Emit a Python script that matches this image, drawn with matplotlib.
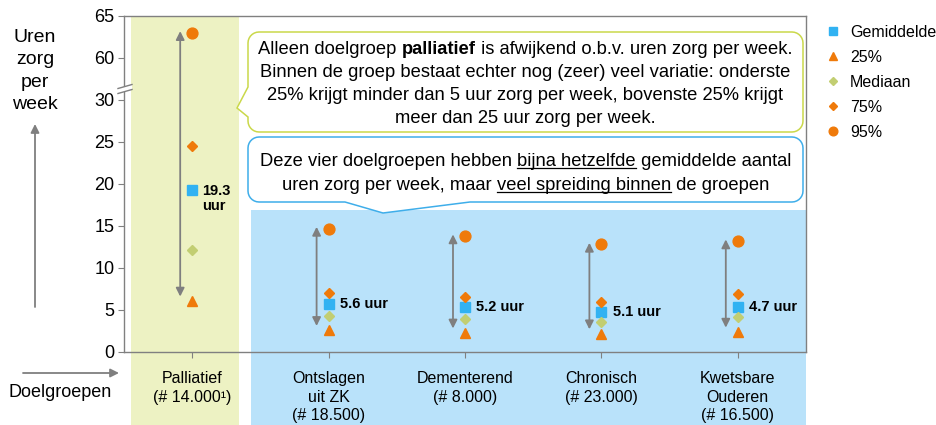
import matplotlib
matplotlib.use('Agg')
import matplotlib.pyplot as plt
import matplotlib.transforms as transforms
from matplotlib.patches import Rectangle, PathPatch, Polygon, FancyArrowPatch
from matplotlib.path import Path
from matplotlib.lines import Line2D
import numpy as np

plt.rcParams['font.family'] = ['Liberation Sans', 'DejaVu Sans']

W, H = 937, 425

# data per doelgroep
groepen = ['Palliatief\n(# 14.000¹)', 'Ontslagen\nuit ZK\n(# 18.500)',
           'Dementerend\n(# 8.000)', 'Chronisch\n(# 23.000)',
           'Kwetsbare\nOuderen\n(# 16.500)']
gemiddelde = [19.3, 5.7, 5.3, 4.8, 5.3]
gemiddelde_label = ['19.3\nuur', '5.6 uur', '5.2 uur', '5.1 uur', '4.7 uur']
p25 = [6.1, 2.6, 2.3, 2.2, 2.4]
mediaan = [12.2, 4.3, 3.9, 3.6, 4.2]
p75 = [24.5, 7.0, 6.5, 5.9, 6.9]
p95 = [63.0, 14.7, 13.8, 12.8, 13.2]

y_ticks = [0, 5, 10, 15, 20, 25, 30, 60, 65]
BREAK_LO, BREAK_HI = 30, 55

BLAUW = '#31B2F2'
ORANJE = '#EF7A0A'
GROEN = '#C2CE72'
GRIJS = '#808080'


def disp(v):
    # gebroken y-as: waarden boven de breuk schuiven omlaag
    v = np.asarray(v, dtype=float)
    return np.where(v > BREAK_LO, v - (BREAK_HI - BREAK_LO), v)


fig = plt.figure(figsize=(W / 100, H / 100), dpi=100)
ax = fig.add_axes([124 / W, 1 - 352 / H, 682 / W, 336 / H])
ax.set_facecolor('none')
# pixel-coordinaten (y van boven naar beneden)
px = transforms.Affine2D().scale(1 / W, -1 / H).translate(0, 1) + fig.transFigure

# achtergrondvlakken
fig.add_artist(Rectangle((131, 16), 108, 420, transform=px,
                         facecolor='#EDF2C3', edgecolor='none', zorder=-2))
fig.add_artist(Rectangle((251, 210), 555, 220, transform=px,
                         facecolor='#B9E2FA', edgecolor='none', zorder=-2))

x = np.arange(len(groepen)) + 0.5

# pijlen voor de spreiding
for xi, lo, hi in zip(x, p25, p95):
    ax.annotate('', xy=(xi - 0.088, disp(hi) + 0.2), xytext=(xi - 0.088, lo + 0.5),
                arrowprops=dict(arrowstyle='<|-|>,head_length=0.5,head_width=0.25',
                                color='#7F7F7F', lw=1.3, shrinkA=0, shrinkB=0))

ax.plot(x, disp(gemiddelde), 's', color=BLAUW, ms=7.2, ls='none', label='Gemiddelde', zorder=4)
ax.plot(x, disp(p25), '^', color=ORANJE, ms=7.5, ls='none', label='25%', zorder=4)
ax.plot(x, disp(mediaan), 'D', color=GROEN, ms=5.2, ls='none', label='Mediaan', zorder=4)
ax.plot(x, disp(p75), 'D', color=ORANJE, ms=5.2, ls='none', label='75%', zorder=4)
ax.plot(x, disp(p95), 'o', color=ORANJE, ms=7.8, ls='none', label='95%', zorder=4)

for xi, m, lab in zip(x, gemiddelde, gemiddelde_label):
    if '\n' in lab:
        ax.annotate(lab, xy=(xi, disp(m)), xytext=(7, 4), textcoords='offset points',
                    va='top', ha='left', fontsize=10.5, fontweight='bold', linespacing=1.1)
    else:
        ax.annotate(lab, xy=(xi, disp(m)), xytext=(8, 0), textcoords='offset points',
                    va='center', ha='left', fontsize=10.5, fontweight='bold')

ax.set_xlim(0, 5)
ax.set_ylim(0, 40)
ax.set_yticks(disp(y_ticks))
ax.set_yticklabels([str(t) for t in y_ticks])
ax.set_xticks(x)
ax.set_xticklabels(groepen, fontsize=11.5, linespacing=1.27)
ax.tick_params(axis='y', length=4, color=GRIJS, labelsize=13, pad=3)
ax.tick_params(axis='x', length=4, color=GRIJS, pad=10)
for s in ax.spines.values():
    s.set_color(GRIJS)
    s.set_linewidth(1)

# breuk in de y-as
fig.add_artist(Polygon([(118, 88.5), (132, 84.5), (132, 89.5), (118, 93.5)], closed=True,
                       transform=px, facecolor='white', edgecolor='none', zorder=5))
fig.add_artist(Line2D([118, 132], [88.5, 84.5], transform=px, color=GRIJS, lw=1, zorder=6))
fig.add_artist(Line2D([118, 132], [93.5, 89.5], transform=px, color=GRIJS, lw=1, zorder=6))

ax.legend(loc='upper left', bbox_to_anchor=(826 / W, 1 - 25 / H), bbox_transform=fig.transFigure,
          frameon=False, borderaxespad=0, borderpad=0, handlelength=0.9, handletextpad=0.6,
          labelspacing=0.62, fontsize=11.5, markerscale=0.8)

# asteksten
fig.text(35, 71, 'Uren\nzorg\nper\nweek', transform=px, ha='center', va='center',
         fontsize=14, linespacing=1.4)
fig.text(9, 393, 'Doelgroepen', transform=px, ha='left', va='center', fontsize=13)
fig.add_artist(FancyArrowPatch((35, 307), (35, 124), transform=px,
                               arrowstyle='-|>,head_length=5,head_width=2.5', color='#7F7F7F',
                               lw=1.3, shrinkA=0, shrinkB=0))
fig.add_artist(FancyArrowPatch((23, 373), (119, 373), transform=px,
                               arrowstyle='-|>,head_length=5,head_width=2.5', color='#7F7F7F',
                               lw=1.3, shrinkA=0, shrinkB=0))


def callout(x0, y0, x1, y1, r, pointer, side):
    # afgeronde rechthoek met punt (links of onder)
    verts = []

    def arc(cx, cy, a0, a1):
        for a in np.linspace(np.radians(a0), np.radians(a1), 8):
            verts.append((cx + r * np.cos(a), cy + r * np.sin(a)))

    arc(x0 + r, y0 + r, 180, 270)
    arc(x1 - r, y0 + r, 270, 360)
    arc(x1 - r, y1 - r, 0, 90)
    if side == 'bottom':
        (bx0, bx1), tip = pointer
        verts += [(bx1, y1), tip, (bx0, y1)]
    arc(x0 + r, y1 - r, 90, 180)
    if side == 'left':
        (by0, by1), tip = pointer
        verts += [(x0, by1), tip, (x0, by0)]
    verts.append(verts[0])
    codes = [Path.MOVETO] + [Path.LINETO] * (len(verts) - 2) + [Path.CLOSEPOLY]
    return Path(verts, codes)


fig.add_artist(PathPatch(callout(248, 32, 803, 132, 11, ((87, 117), (237, 108)), 'left'),
                         transform=px, facecolor='white', edgecolor='#CAD84A', lw=1.1, zorder=3))
fig.add_artist(PathPatch(callout(248, 137, 803, 202, 11, ((345, 470), (383, 213)), 'bottom'),
                         transform=px, facecolor='white', edgecolor='#3FAEEA', lw=1.1, zorder=3))

renderer = fig.canvas.get_renderer()


def tekst_breedte(s, weight, size):
    t = fig.text(0, 0, '|' + s + '|', fontsize=size, fontweight=weight, transform=px)
    w = t.get_window_extent(renderer).width
    t.remove()
    t = fig.text(0, 0, '||', fontsize=size, fontweight=weight, transform=px)
    w -= t.get_window_extent(renderer).width
    t.remove()
    return w


def rich_line(y, segs, size=13.2, xc=525.5):
    widths = [tekst_breedte(s, wt, size) for s, wt, u in segs]
    xs = xc - sum(widths) / 2
    for (s, wt, u), w in zip(segs, widths):
        fig.text(xs, y, s, transform=px, fontsize=size, fontweight=wt,
                 ha='left', va='baseline', zorder=7)
        if u:
            fig.add_artist(Line2D([xs, xs + w], [y + 2.5, y + 2.5], transform=px,
                                  color='black', lw=0.9, zorder=7))
        xs += w


N, B = 'normal', 'bold'
rich_line(54, [('Alleen doelgroep ', N, False), ('palliatief', B, False),
               (' is afwijkend o.b.v. uren zorg per week.', N, False)])
rich_line(77, [('Binnen de groep bestaat echter nog (zeer) veel variatie: onderste', N, False)])
rich_line(100, [('25% krijgt minder dan 5 uur zorg per week, bovenste 25% krijgt', N, False)])
rich_line(123, [('meer dan 25 uur zorg per week.', N, False)])
rich_line(166, [('Deze vier doelgroepen hebben ', N, False), ('bijna hetzelfde', N, True),
                (' gemiddelde aantal', N, False)])
rich_line(190, [('uren zorg per week, maar ', N, False), ('veel spreiding binnen', N, True),
                (' de groepen', N, False)])

fig.savefig('out.png', dpi=100)
